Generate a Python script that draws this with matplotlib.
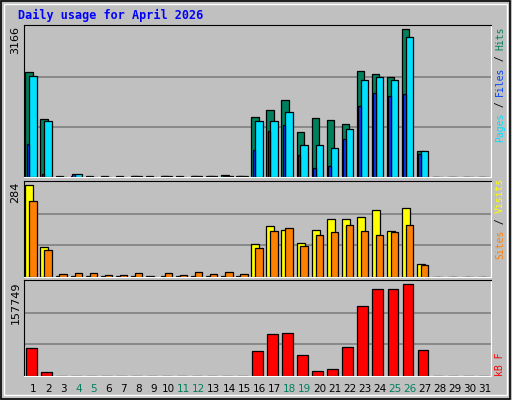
import matplotlib
matplotlib.use("Agg")
import matplotlib.pyplot as plt
from matplotlib.patches import Rectangle
import numpy as np

days = list(range(1, 32))
weekend = [4, 5, 11, 12, 18, 19, 25, 26]

hits = [2247, 1248, 20, 30, 20, 20, 20, 30, 20, 30, 20, 30, 30, 50, 30,
        1284, 1426, 1655, 970, 1270, 1212, 1141, 2270, 2211, 2140, 3166, 564, 0, 0, 0, 0]
files = [2168, 1205, 10, 60, 10, 10, 10, 20, 10, 20, 10, 20, 20, 30, 20,
         1205, 1205, 1398, 692, 692, 628, 1020, 2083, 2140, 2083, 3002, 564, 0, 0, 0, 0]
pages = [713, 71, 5, 71, 5, 5, 5, 20, 5, 20, 5, 20, 20, 30, 20,
         571, 977, 1119, 477, 185, 228, 805, 1512, 1790, 1740, 1767, 500, 0, 0, 0, 0]
visits = [284, 93, 3, 3, 3, 2, 2, 3, 2, 3, 2, 3, 3, 3, 2,
          102, 158, 145, 105, 145, 179, 179, 186, 207, 143, 213, 41, 0, 0, 0, 0]
sites = [235, 84, 10, 12, 12, 7, 7, 12, 1, 12, 7, 16, 10, 16, 10,
         90, 143, 151, 96, 130, 139, 161, 143, 130, 139, 161, 37, 0, 0, 0, 0]
kbytes = [48000, 7400, 500, 500, 500, 500, 500, 500, 500, 500, 500, 500, 500, 500, 500,
          43000, 72000, 74000, 36500, 9100, 12600, 50300, 120400, 149800, 149800, 157749, 45000, 0, 0, 0, 0]

GRAY = "#c0c0c0"
fig = plt.figure(figsize=(5.12, 4.0), dpi=100, facecolor=GRAY)
fig.patches.append(Rectangle((0.002, 0.003), 0.994, 0.994, transform=fig.transFigure,
                             fill=False, edgecolor="black", lw=1.2))
fig.patches.append(Rectangle((0.008, 0.012), 0.982, 0.978, transform=fig.transFigure,
                             fill=False, edgecolor="white", lw=1))

mono = "DejaVu Sans Mono"
fig.text(0.035, 0.962, "Daily usage for April 2026", color="#0000ff", fontsize=8.5,
         fontweight="bold", family=mono, va="center")

x0 = np.array(days) - 0.5


def panel(rect, top_val, top_frac):
    ax = fig.add_axes(rect)
    ax.set_facecolor(GRAY)
    ax.set_xlim(0.5, 31.5)
    ax.set_ylim(0, top_val / top_frac)
    for f in (0.33, 0.66):
        ax.axhline(top_val / top_frac * f, color="#808080", lw=1.2, zorder=0)
    ax.set_xticks([])
    ax.set_yticks([])
    for s in ax.spines.values():
        s.set_color("black")
    ax.spines["right"].set_color("white")
    ax.spines["bottom"].set_color("white")
    return ax


def bars(ax, vals, off, w, color):
    ax.bar(x0 + off, vals, width=w, align="edge", color=color, edgecolor="black", lw=0.9)


def side_label(y_top_px, parts):
    # parts: list of (text, colour); stacked downward, rotated
    y = y_top_px
    for txt, col in parts:
        fig.text(0.977, 1 - y / 400, txt, rotation=90, color=col, fontsize=7,
                 family=mono, va="top", ha="center")
        y += len(txt) * 5.7


# hits / files / pages
ax1 = panel([0.047, 0.5575, 0.912, 0.38], 3166, 148 / 152)
bars(ax1, hits, 0.09, 0.49, "#00805c")
bars(ax1, files, 0.35, 0.49, "#00e0ff")
bars(ax1, pages, 0.18, 0.17, "#0040ff")
fig.text(0.03, 0.935, "3166", rotation=90, fontsize=8, va="top", ha="center")
side_label(27, [("Hits", "#00805c"), (" / ", "black"), ("Files", "#0040ff"),
                (" / ", "black"), ("Pages", "#00e0ff")])

# visits / sites
ax2 = panel([0.047, 0.3075, 0.912, 0.24], 284, 92 / 96)
bars(ax2, visits, 0.09, 0.53, "#ffff00")
bars(ax2, sites, 0.35, 0.49, "#ff8000")
fig.text(0.03, 0.545, "284", rotation=90, fontsize=8, va="top", ha="center")
side_label(178, [("Visits", "#ffff00"), (" / ", "black"), ("Sites", "#ff8000")])

# kbytes
ax3 = panel([0.047, 0.06, 0.912, 0.24], 157749, 92 / 96)
bars(ax3, kbytes, 0.13, 0.71, "#ff0000")
fig.text(0.03, 0.297, "157749", rotation=90, fontsize=8, va="top", ha="center")
side_label(353, [("kB F", "#ff0000")])

for d in days:
    xf = 0.047 + 0.912 * (d - 0.5) / 31 + 0.003
    fig.text(xf, 0.027, str(d), ha="center", va="center", fontsize=7.5,
             color="#00805c" if d in weekend else "black")

fig.savefig("out.png", dpi=100, facecolor=GRAY)
